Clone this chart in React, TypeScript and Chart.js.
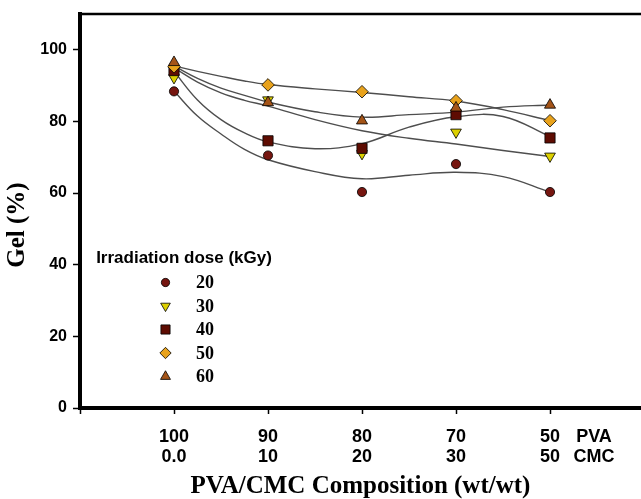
import React, { useEffect, useRef } from 'react';
import { Chart, registerables } from 'chart.js';

Chart.register(...registerables);

// ---- data ----
const doseLabels = ['20', '30', '40', '50', '60'];
const pvaLabels = ['100', '90', '80', '70', '50'];
const cmcLabels = ['0.0', '10', '20', '30', '50'];
const compositionIndex = [1, 2, 3, 4, 5];
const unitLabels = ['PVA', 'CMC'];
const yTickValues = [0, 20, 40, 60, 80, 100];

// measured gel fraction (%) per composition
const gel20 = [88.4, 70.5, 60.3, 68.1, 60.3];
const gel30 = [92.2, 86.0, 71.0, 77.0, 70.3];
const gel40 = [94.2, 74.6, 72.5, 81.9, 75.4];
const gel50 = [95.3, 90.2, 88.3, 85.8, 80.2];
const gel60 = [96.5, 85.3, 80.2, 83.8, 84.6];

// fitted trend curves
const fitX = [1, 1.25, 1.5, 1.75, 2, 2.5, 3, 3.5, 4, 4.5, 5];
const fit20 = [88.5, 81.5, 76.5, 72.2, 69.3, 66.0, 64.0, 65.0, 65.8, 64.6, 60.3];
const fit30 = [95.0, 91.0, 88.0, 85.9, 84.3, 80.5, 77.4, 75.3, 73.7, 71.9, 70.2];
const fit40 = [94.0, 86.0, 80.5, 76.8, 74.3, 72.4, 73.8, 78.4, 81.3, 81.4, 75.8];
const fit50 = [95.5, 94.0, 92.6, 91.3, 90.3, 89.1, 88.1, 86.9, 85.7, 83.3, 80.2];
const fit60 = [95.5, 92.0, 89.3, 87.3, 85.4, 82.7, 81.2, 81.9, 82.6, 84.0, 84.6];

const gelSeries = [gel20, gel30, gel40, gel50, gel60];
const fitSeries = [fit20, fit30, fit40, fit50, fit60];

const markerColors = ['#761610', '#dcd000', '#5e0c02', '#e8a21c', '#a45418'];
const markerStyles = ['circle', 'triangle', 'rect', 'rectRot', 'triangle'];
const markerRotation = [0, 180, 0, 0, 0];
const markerRadius = [4.6, 6.2, 7.2, 6.3, 6.4];

const legendTitle = 'Irradiation dose (kGy)';
const xTitle = 'PVA/CMC Composition (wt/wt)';
const yTitle = 'Gel (%)';

const X_MAX = 5.968;
const UNIT_POS = 5.468;

function drawMarker(ctx: CanvasRenderingContext2D, style: string, x: number, y: number, r: number, rotDeg: number) {
  ctx.beginPath();
  if (style === 'circle') {
    ctx.arc(x, y, r, 0, Math.PI * 2);
  } else if (style === 'triangle') {
    let rad = (rotDeg * Math.PI) / 180;
    ctx.moveTo(x + Math.sin(rad) * r, y - Math.cos(rad) * r);
    rad += (2 * Math.PI) / 3;
    ctx.lineTo(x + Math.sin(rad) * r, y - Math.cos(rad) * r);
    rad += (2 * Math.PI) / 3;
    ctx.lineTo(x + Math.sin(rad) * r, y - Math.cos(rad) * r);
    ctx.closePath();
  } else if (style === 'rect') {
    const s = r * Math.SQRT1_2;
    ctx.rect(x - s, y - s, 2 * s, 2 * s);
  } else if (style === 'rectRot') {
    ctx.moveTo(x - r, y);
    ctx.lineTo(x, y - r);
    ctx.lineTo(x + r, y);
    ctx.lineTo(x, y + r);
    ctx.closePath();
  }
  ctx.fill();
  ctx.stroke();
}

const overlayPlugin = {
  id: 'overlay',
  afterDraw(chart: any) {
    const { ctx, chartArea } = chart;
    ctx.save();
    // top frame line
    ctx.strokeStyle = '#000';
    ctx.lineWidth = 2.5;
    ctx.beginPath();
    ctx.moveTo(chartArea.left - 2, chartArea.top);
    ctx.lineTo(chartArea.right, chartArea.top);
    ctx.stroke();

    // y axis title
    ctx.save();
    ctx.translate(18, 225);
    ctx.rotate(-Math.PI / 2);
    ctx.font = 'bold 25px "Liberation Serif", "Times New Roman", serif';
    ctx.textAlign = 'center';
    ctx.textBaseline = 'middle';
    ctx.fillStyle = '#000';
    ctx.fillText(yTitle, 0, 0);
    ctx.restore();

    // legend
    ctx.fillStyle = '#000';
    ctx.font = 'bold 17px "Liberation Sans", Arial, sans-serif';
    ctx.textAlign = 'center';
    ctx.textBaseline = 'middle';
    ctx.fillText(legendTitle, 184, 258);
    ctx.font = 'bold 18px "Liberation Serif", "Times New Roman", serif';
    ctx.textAlign = 'left';
    doseLabels.forEach((lab, i) => {
      const y = 282.5 + i * 23.5;
      ctx.fillStyle = markerColors[i];
      ctx.strokeStyle = '#000';
      ctx.lineWidth = 0.8;
      drawMarker(ctx, markerStyles[i], 165.5, y, markerRadius[i] * 0.9, markerRotation[i]);
      ctx.fillStyle = '#000';
      ctx.fillText(lab, 196, y + 1);
    });
    ctx.restore();
  },
};

export default function App() {
  const canvasRef = useRef<HTMLCanvasElement | null>(null);

  useEffect(() => {
    if (!canvasRef.current) return;

    const fitDatasets = fitSeries.map((vals, i) => ({
      type: 'line' as const,
      label: 'fit ' + doseLabels[i],
      data: fitX.map((x, j) => ({ x, y: vals[j] })),
      borderColor: '#4e4e4e',
      borderWidth: 1.4,
      pointRadius: 0,
      tension: 0.4,
      fill: false,
      order: 10,
    }));

    const markerDatasets = gelSeries.map((vals, i) => ({
      type: 'line' as const,
      label: doseLabels[i],
      data: compositionIndex.map((x, j) => ({ x, y: vals[j] })),
      showLine: false,
      pointStyle: markerStyles[i],
      pointRadius: markerRadius[i],
      pointRotation: markerRotation[i],
      pointBackgroundColor: markerColors[i],
      backgroundColor: markerColors[i],
      pointBorderColor: '#000',
      borderColor: '#000',
      pointBorderWidth: 0.8,
      order: 5 - i,
    }));

    const chart = new Chart(canvasRef.current, {
      type: 'line',
      data: { datasets: [...fitDatasets, ...markerDatasets] as any },
      plugins: [overlayPlugin],
      options: {
        responsive: false,
        animation: false,
        layout: { autoPadding: false, padding: { top: 14, left: 0, right: 0, bottom: 0 } },
        plugins: {
          legend: { display: false },
          tooltip: { enabled: false },
          title: { display: false },
        },
        scales: {
          x: {
            type: 'linear',
            position: 'bottom',
            min: 0,
            max: X_MAX,
            afterBuildTicks: (s: any) => {
              s.ticks = [0, ...compositionIndex, UNIT_POS].map((v) => ({ value: v }));
            },
            afterFit: (s: any) => {
              s.height = 91;
              s.paddingLeft = 0;
              s.paddingRight = 0;
            },
            grid: {
              display: true,
              drawOnChartArea: false,
              drawTicks: true,
              tickLength: 6,
              tickWidth: 1.5,
              tickColor: (c: any) => (c.tick && c.tick.value > 5.1 ? 'rgba(0,0,0,0)' : '#000'),
            },
            border: { display: true, color: '#000', width: 4 },
            ticks: {
              autoSkip: false,
              maxRotation: 0,
              minRotation: 0,
              padding: 13,
              color: '#000',
              font: { family: '"Liberation Sans", Arial, sans-serif', size: 18, weight: 'bold', lineHeight: 1.1 },
              callback: (value: any) => {
                const i = compositionIndex.indexOf(value);
                if (i >= 0) return [pvaLabels[i], cmcLabels[i]];
                if (value === UNIT_POS) return unitLabels;
                return '';
              },
            },
            title: {
              display: true,
              text: xTitle,
              color: '#000',
              font: { family: '"Liberation Serif", "Times New Roman", serif', size: 25, weight: 'bold', lineHeight: 1 },
              padding: { top: 0, bottom: 0 },
            },
          },
          y: {
            type: 'linear',
            position: 'left',
            min: 0,
            max: 110,
            afterBuildTicks: (s: any) => {
              s.ticks = yTickValues.map((v) => ({ value: v }));
            },
            afterFit: (s: any) => {
              s.width = 80;
              s.paddingTop = 0;
              s.paddingBottom = 0;
            },
            grid: {
              display: true,
              drawOnChartArea: false,
              drawTicks: true,
              tickLength: 7,
              tickWidth: 1.5,
              tickColor: '#000',
            },
            border: { display: true, color: '#000', width: 4 },
            ticks: {
              padding: 6,
              color: '#000',
              font: { family: '"Liberation Sans", Arial, sans-serif', size: 16, weight: 'bold' },
            },
          },
        },
      } as any,
    });

    return () => chart.destroy();
  }, []);

  return (
    <div style={{ position: 'absolute', left: 0, top: 0, width: 641, height: 499, background: '#fff' }}>
      <canvas ref={canvasRef} width={641} height={499} style={{ display: 'block' }} />
    </div>
  );
}
